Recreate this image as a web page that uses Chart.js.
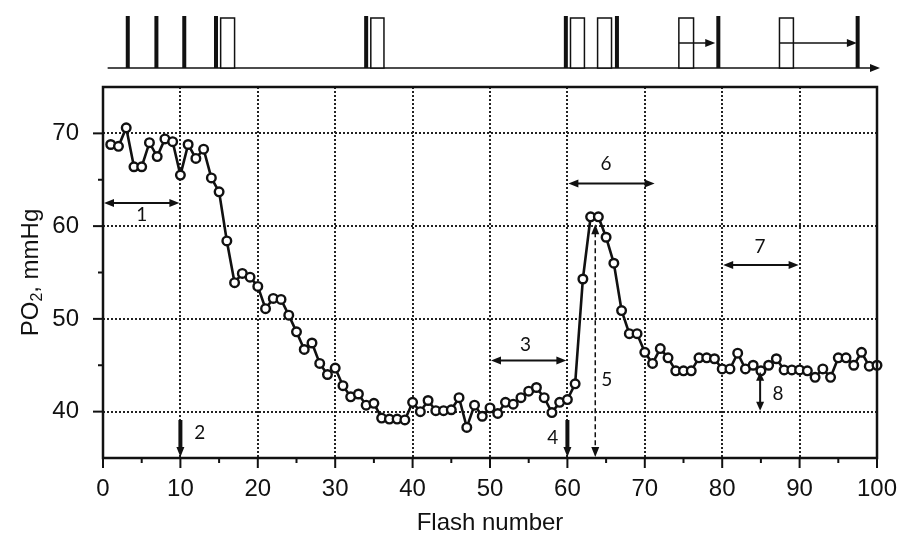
<!DOCTYPE html>
<html>
<head>
<meta charset="utf-8">
<script src="https://cdn.jsdelivr.net/npm/chart.js@4.4.1/dist/chart.umd.min.js"></script>
<style>
  html, body { margin: 0; padding: 0; background: #fff; }
  #wrap { width: 899px; height: 538px; }
</style>
</head>
<body>
<div id="wrap"><canvas id="chart" width="899" height="538"></canvas></div>
<script>
// PO2 after each flash (flash 1 .. 100)
const po2 = [
  68.8, 68.6, 70.6, 66.4, 66.4, 69.0, 67.5, 69.4, 69.1, 65.5,
  68.8, 67.3, 68.3, 65.2, 63.7, 58.4, 53.9, 54.9, 54.5, 53.5,
  51.1, 52.2, 52.1, 50.4, 48.6, 46.7, 47.4, 45.2, 44.0, 44.7,
  42.8, 41.6, 41.9, 40.7, 40.9, 39.3, 39.2, 39.2, 39.1, 41.0,
  40.0, 41.2, 40.1, 40.1, 40.2, 41.5, 38.3, 40.7, 39.5, 40.4,
  39.8, 41.0, 40.8, 41.5, 42.2, 42.6, 41.5, 39.9, 41.0, 41.3,
  43.0, 54.3, 61.0, 61.0, 58.8, 56.0, 50.9, 48.4, 48.4, 46.4,
  45.2, 46.8, 45.8, 44.4, 44.4, 44.4, 45.8, 45.8, 45.7, 44.6,
  44.6, 46.3, 44.6, 45.0, 44.4, 45.0, 45.7, 44.5, 44.5, 44.5,
  44.4, 43.7, 44.6, 43.7, 45.8, 45.8, 45.0, 46.4, 44.9, 45.0
];
const flashNumbers = po2.map((_, i) => i + 1);

const xLabels = [0, 10, 20, 30, 40, 50, 60, 70, 80, 90, 100];
const yLabels = [40, 50, 60, 70];

// protocol strip above the plot (in flash numbers)
const darkFlashes = [3.2, 6.9, 10.5, 14.6, 34.0, 59.8, 66.4, 79.5, 97.5];
const lightStarts = [15.2, 34.6, 60.4, 63.9, 74.4, 87.4];
const lightEnds   = [17.0, 36.3, 62.2, 65.7, 76.3, 89.2];
const delayFrom = [74.4, 87.4];
const delayTo   = [79.1, 97.4];

// numbered marks on the plot
const spanFrom = [0, 50, 60, 80];
const spanTo   = [10, 60, 71.4, 90];
const spanAt   = [62.5, 45.5, 64.6, 55.8];
const markText = ['1', '2', '3', '4', '5', '6', '7', '8'];
const markX    = [5.0, 12.5, 54.6, 58.1, 65.1, 65.0, 84.9, 87.2];
const markY    = [61.2, 37.7, 47.2, 37.2, 43.4, 66.7, 57.8, 41.9];
const flashArrows = [10, 60];       // thick arrows 2 and 4
const peakLine = { x: 63.6, top: 60.2 };  // dashed arrow 5
const rangeMark = { x: 84.9, from: 44.3, to: 40.1 }; // arrow 8

const INK = '#111';
const FONT = "'Liberation Sans', Arial, sans-serif";

function head(ctx, x, y, dx, dy, len, half) {
  const px = -dy, py = dx;
  ctx.beginPath();
  ctx.moveTo(x, y);
  ctx.lineTo(x - dx * len + px * half, y - dy * len + py * half);
  ctx.lineTo(x - dx * len - px * half, y - dy * len - py * half);
  ctx.closePath();
  ctx.fill();
}

const decor = {
  id: 'decor',
  beforeDatasetsDraw(chart) {
    const { ctx, chartArea: a, scales: { x, y } } = chart;
    ctx.save();
    ctx.strokeStyle = '#222';
    ctx.lineWidth = 2;
    ctx.setLineDash([2, 2]);
    for (let v = 10; v < 100; v += 10) {
      const px = Math.round(x.getPixelForValue(v));
      ctx.beginPath(); ctx.moveTo(px, a.top); ctx.lineTo(px, a.bottom); ctx.stroke();
    }
    yLabels.forEach(v => {
      const py = Math.round(y.getPixelForValue(v));
      ctx.beginPath(); ctx.moveTo(a.left, py); ctx.lineTo(a.right, py); ctx.stroke();
    });
    ctx.restore();
  },
  afterDatasetsDraw(chart) {
    const { ctx, chartArea: a, scales: { x, y } } = chart;
    ctx.save();
    ctx.strokeStyle = INK;
    ctx.fillStyle = INK;

    // frame and ticks
    ctx.lineWidth = 2.5;
    ctx.strokeRect(a.left, a.top, a.right - a.left, a.bottom - a.top);
    ctx.lineWidth = 2;
    for (let v = 0; v <= 100; v += 5) {
      const px = x.getPixelForValue(v);
      const len = v % 10 === 0 ? 10 : 5;
      ctx.beginPath(); ctx.moveTo(px, a.bottom); ctx.lineTo(px, a.bottom + len); ctx.stroke();
    }
    for (let v = 40; v <= 70; v += 5) {
      const py = y.getPixelForValue(v);
      const len = v % 10 === 0 ? 10 : 5;
      ctx.beginPath(); ctx.moveTo(a.left, py); ctx.lineTo(a.left - len, py); ctx.stroke();
    }

    // horizontal double arrows 1, 3, 6, 7
    ctx.lineWidth = 2;
    spanFrom.forEach((f, i) => {
      const x1 = x.getPixelForValue(f), x2 = x.getPixelForValue(spanTo[i]);
      const py = y.getPixelForValue(spanAt[i]);
      ctx.beginPath(); ctx.moveTo(x1 + 6, py); ctx.lineTo(x2 - 6, py); ctx.stroke();
      head(ctx, x1 + 1, py, -1, 0, 10, 4);
      head(ctx, x2 - 1, py, 1, 0, 10, 4);
    });

    // thick flash arrows 2 and 4
    flashArrows.forEach(f => {
      const px = x.getPixelForValue(f);
      ctx.lineWidth = 4;
      ctx.beginPath(); ctx.moveTo(px, y.getPixelForValue(39.1)); ctx.lineTo(px, a.bottom - 8); ctx.stroke();
      head(ctx, px, a.bottom - 1, 0, 1, 10, 4);
    });

    // dashed arrow 5
    {
      const px = x.getPixelForValue(peakLine.x);
      const top = y.getPixelForValue(peakLine.top);
      ctx.lineWidth = 1.5;
      ctx.setLineDash([5, 3]);
      ctx.beginPath(); ctx.moveTo(px, top + 8); ctx.lineTo(px, a.bottom - 8); ctx.stroke();
      ctx.setLineDash([]);
      head(ctx, px, top, 0, -1, 10, 4);
      head(ctx, px, a.bottom - 1, 0, 1, 10, 4);
    }

    // vertical double arrow 8
    {
      const px = x.getPixelForValue(rangeMark.x);
      const y1 = y.getPixelForValue(rangeMark.from), y2 = y.getPixelForValue(rangeMark.to);
      ctx.lineWidth = 2;
      ctx.beginPath(); ctx.moveTo(px, y1 + 6); ctx.lineTo(px, y2 - 6); ctx.stroke();
      head(ctx, px, y1, 0, -1, 9, 4);
      head(ctx, px, y2, 0, 1, 9, 4);
    }

    // mark numbers
    ctx.font = "19px Lato, 'Open Sans', sans-serif";
    ctx.textAlign = 'center';
    ctx.textBaseline = 'middle';
    markText.forEach((t, i) => {
      ctx.fillText(t, x.getPixelForValue(markX[i]), y.getPixelForValue(markY[i]));
    });

    // protocol strip
    const base = a.top - 19, barTop = a.top - 71, boxTop = a.top - 69;
    ctx.lineWidth = 1.5;
    ctx.beginPath(); ctx.moveTo(x.getPixelForValue(0.6), base); ctx.lineTo(a.right - 6, base); ctx.stroke();
    head(ctx, a.right + 3, base, 1, 0, 10, 4);
    lightStarts.forEach((s, i) => {
      const x1 = x.getPixelForValue(s), x2 = x.getPixelForValue(lightEnds[i]);
      ctx.fillStyle = '#fff';
      ctx.fillRect(x1, boxTop, x2 - x1, base - boxTop);
      ctx.strokeRect(x1, boxTop, x2 - x1, base - boxTop);
    });
    ctx.fillStyle = INK;
    darkFlashes.forEach(f => {
      const px = x.getPixelForValue(f);
      ctx.fillRect(px - 2, barTop, 4, base - barTop);
    });
    delayFrom.forEach((f, i) => {
      const x1 = x.getPixelForValue(f), x2 = x.getPixelForValue(delayTo[i]);
      const py = a.top - 44;
      ctx.beginPath(); ctx.moveTo(x1, py); ctx.lineTo(x2 - 8, py); ctx.stroke();
      head(ctx, x2, py, 1, 0, 10, 4);
    });

    // y axis title with subscript
    ctx.translate(31, (a.top + a.bottom) / 2);
    ctx.rotate(-Math.PI / 2);
    ctx.textBaseline = 'middle';
    ctx.textAlign = 'left';
    const big = '24px ' + FONT, small = '16px ' + FONT;
    ctx.font = big;
    const w1 = ctx.measureText('PO').width;
    const w3 = ctx.measureText(', mmHg').width;
    ctx.font = small;
    const w2 = ctx.measureText('2').width;
    let cx = -(w1 + w2 + w3) / 2;
    ctx.font = big; ctx.fillText('PO', cx, 0); cx += w1;
    ctx.font = small; ctx.fillText('2', cx, 7); cx += w2;
    ctx.font = big; ctx.fillText(', mmHg', cx, 0);
    ctx.restore();
  }
};

new Chart(document.getElementById('chart'), {
  type: 'line',
  data: {
    datasets: [{
      data: flashNumbers.map((f, i) => ({ x: f, y: po2[i] })),
      borderColor: INK,
      borderWidth: 2.6,
      pointRadius: 4.3,
      pointBorderWidth: 2.4,
      pointBackgroundColor: '#fff',
      pointBorderColor: INK,
      tension: 0,
      clip: false
    }]
  },
  options: {
    responsive: false,
    animation: false,
    devicePixelRatio: 1,
    layout: { padding: { top: 87, right: 22, left: 0, bottom: 0 } },
    plugins: { legend: { display: false }, tooltip: { enabled: false } },
    scales: {
      x: {
        type: 'linear', min: 0, max: 100,
        grid: { display: false },
        border: { display: false },
        afterBuildTicks: s => { s.ticks = xLabels.map(v => ({ value: v })); },
        ticks: { color: INK, font: { family: FONT, size: 24 }, padding: 9, maxRotation: 0, autoSkip: false },
        title: { display: true, text: 'Flash number', color: INK, font: { family: FONT, size: 24 }, padding: { top: 0, bottom: 0 } },
        afterFit: s => { s.height = 80; s.paddingLeft = 0; s.paddingRight = 0; }
      },
      y: {
        min: 35, max: 75,
        grid: { display: false },
        border: { display: false },
        afterBuildTicks: s => { s.ticks = yLabels.map(v => ({ value: v })); },
        ticks: { color: INK, font: { family: FONT, size: 24 }, padding: 16 },
        afterFit: s => { s.width = 103; s.paddingTop = 0; s.paddingBottom = 0; }
      }
    }
  },
  plugins: [decor]
});
</script>
</body>
</html>
